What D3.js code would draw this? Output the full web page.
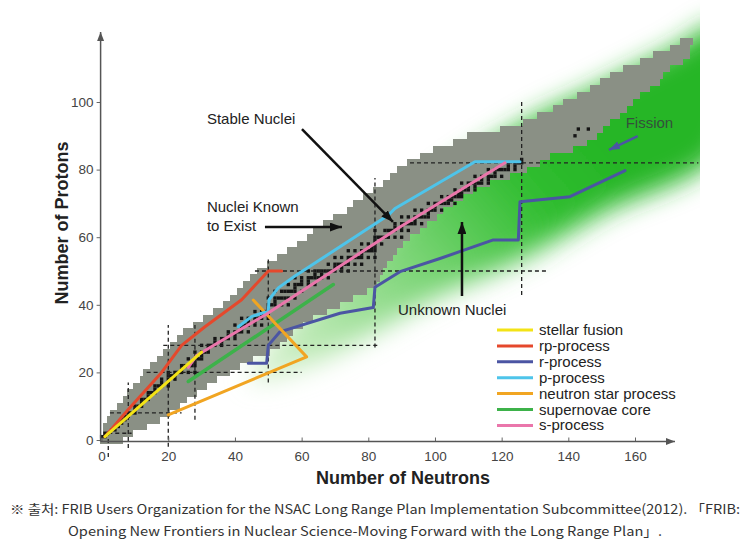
<!DOCTYPE html>
<html><head><meta charset="utf-8">
<script src="https://cdn.jsdelivr.net/npm/d3@7"></script>
<style>body{margin:0;background:#fff}</style>
</head><body>
<svg id="c" width="745" height="547"></svg>
<script>
// ---------------- DATA ----------------
const xTicks = [0, 20, 40, 60, 80, 100, 120, 140, 160];
const yTicks = [0, 20, 40, 60, 80, 100];

// nuclei known to exist: rows of 2 protons, neutron range
const knownZ = [0,2,4,6,8,10,12,14,16,18,20,22,24,26,28,30,32,34,36,38,40,42,44,46,48,50,52,54,56,58,60,62,64,66,68,70,72,74,76,78,80,82,84,86,88,90,92,94,96,98,100,102,104,106,108,110,112,114,116,118];
const knownNMin = [0,1,1,2,3,5,7,8,10,12,13,15,17,19,21,23,25,28,31,34,37,39,41,43,45,47,50,53,56,59,62,64,67,70,74,76,79,82,85,87,89,92,96,100,106,110,120,127,131,136,139,143,147,150,153,157,162,166,171,174];
const knownNMax = [6,9,13,17,20,23,25,28,31,34,38,41,45,50,53,55,57,60,63,67,71,75,79,82,83,84,85,87,88,90,92,95,97,100,102,105,108,111,116,122,127,131,134,141,145,148,150,152,155,157,159,161,164,167,168,170,174,176,176,177];

// stable nuclei: proton number and its stable neutron numbers
const stableZ = [1,2,3,4,5,6,7,8,9,10,11,12,13,14,15,16,17,18,19,20,21,22,23,24,25,26,27,28,29,30,31,32,33,34,35,36,37,38,39,40,41,42,44,45,46,47,48,49,50,51,52,53,54,55,56,57,58,59,60,62,63,64,65,66,67,68,69,70,71,72,73,74,75,76,77,78,79,80,81,82,83,90,92];
const stableN = [[0,1],[1,2],[3,4],[5],[5,6],[6,7],[7,8],[8,9,10],[10],[10,11,12],[12],[12,13,14],[14],[14,15,16],[16],[16,17,18,20],[18,20],[18,20,22],[20,21,22],[20,22,23,24,26,28],[24],[24,25,26,27,28],[27,28],[26,28,29,30],[30],[28,30,31,32],[32],[30,32,33,34,36],[34,36],[34,36,37,38,40],[38,40],[38,40,41,42,44],[42],[40,42,43,44,46,48],[44,46],[42,44,46,47,48,50],[48,50],[46,48,49,50],[50],[50,51,52,54,56],[52],[50,52,53,54,55,56,58],[52,54,55,56,57,58,60],[58],[56,58,59,60,62,64],[60,62],[58,60,62,63,64,65,66,68],[64,66],[62,64,65,66,67,68,69,70,72,74],[70,72],[68,70,71,72,73,74,76,78],[74],[70,72,74,75,76,77,78,80,82],[78],[74,76,78,79,80,81,82],[81,82],[78,80,82,84],[82],[82,83,84,85,86,88,90],[82,85,86,87,88,90,92],[88,90],[88,90,91,92,93,94,96],[94],[90,92,94,95,96,97,98],[98],[94,96,98,99,100,102],[100],[98,100,101,102,103,104,106],[104,105],[102,104,105,106,107,108],[107,108],[106,108,109,110,112],[110,112],[108,110,111,112,113,114,116],[114,116],[112,114,116,117,118,120],[118],[116,118,119,120,121,122,124],[122,124],[122,124,125,126],[126],[142],[143,146]];

// unknown-nuclei (green) region outline, neutron / proton numbers
const greenN = [45,62,80,100,125,150,186,186,172,160,146,131,114,100,84,68,54];
const greenZ = [18,22,31,42,53,67,86,123,116,110,103,96,86,76,60,45,32];

// magic-number guide lines
const magicVN = [2, 8, 20, 28, 50, 82, 126];
const magicVZ = [[-5,3],[-2.4,17],[-2,34],[6,34],[17,54],[27.4,77.5],[42.9,100.6]];
const magicHZ = [2, 8, 20, 28, 50, 82];
const magicHN = [[2,9],[2.5,24],[13.5,60],[18.5,83.5],[46,134],[92.5,179]];

// process paths [N, Z]
const legendNames = ["stellar fusion","rp-process","r-process","p-process","neutron star process","supernovae core","s-process"];
const legendColors = ["#f3e316","#e5482c","#4b55a3","#4ec4ea","#f1a522","#3db24a","#ea76ab"];
const stellarFusion = [[1,1],[30,26]];
const rpProcess = [[1,1],[8,9],[18,20],[24,28],[31,33.5],[42,41.5],[50,50],[54,50]];
const rProcess = [[44,22.7],[49.5,22.7],[50,28],[53.5,32],[71.5,37.5],[81.5,39.2],[82,45.2],[89.5,49.8],[101.5,53.7],[117.5,59.2],[125,59.2],[125.5,70.5],[140.5,72],[157,79.7]];
const pProcess = [[41,33.5],[45,36.5],[48,37.5],[50,38],[50.2,41.5],[53,45],[58,48.5],[86,66.5],[88,68.5],[112,82.3],[125.5,82.3]];
const neutronStar = [[20,7.4],[61.5,24.6],[45.5,41.4]];
const supernovaeCore = [[26,17.3],[69.5,46]];
const sProcess = [[26,21.5],[28.5,25],[49.5,37.3],[89.5,63],[121,82]];
const processPaths = [stellarFusion, rpProcess, rProcess, pProcess, neutronStar, supernovaeCore, sProcess];
const drawOrder = [5, 2, 4, 3, 6, 1, 0];

// annotations [text, N, Z]
const notes = [["Stable Nuclei",31.6,93.5],["Nuclei Known",31.6,67.5],["to Exist",31.6,61.8],["Unknown Nuclei",88.9,37]];
const arrows = [[[60.1,92],[87.4,64.5]],[[49,63],[72.1,63]],[[108.1,42.6],[108.1,64.5]]];
const fissionNote = ["Fission",157.2,92.3];
const fissionArrow = [[160.8,89.9],[152.2,85.8]];

const caption1 = "※ 출처: FRIB Users Organization for the NSAC Long Range Plan Implementation Subcommittee(2012). 「FRIB:";
const caption2 = "Opening New Frontiers in Nuclear Science-Moving Forward with the Long Range Plan」.";

// ---------------- DRAW ----------------
const svg = d3.select("#c");
const x = d3.scaleLinear().domain([0,160]).range([101.6,635]);
const y = d3.scaleLinear().domain([0,100]).range([440,102]);
const cw = x(1)-x(0), ch = y(0)-y(1);
const FONT = "'Liberation Sans', Arial, Helvetica, sans-serif";

const defs = svg.append("defs");
const blur = defs.append("filter").attr("id","blur").attr("x","-30%").attr("y","-30%").attr("width","160%").attr("height","160%");
blur.append("feGaussianBlur").attr("stdDeviation",13);
defs.append("clipPath").attr("id","gclip").append("rect")
  .attr("x",0).attr("y",0).attr("width",x(179.5)).attr("height",547);
const lg = defs.append("linearGradient").attr("id","ggrad").attr("gradientUnits","userSpaceOnUse")
  .attr("x1",x(55)).attr("y1",y(22)).attr("x2",x(140)).attr("y2",y(95));
lg.append("stop").attr("offset",0).attr("stop-color","#cdeec5");
lg.append("stop").attr("offset",0.45).attr("stop-color","#79d474");
lg.append("stop").attr("offset",0.8).attr("stop-color","#30bd30");
lg.append("stop").attr("offset",1).attr("stop-color","#27b627");

function arrowMarker(id, color, len, wid) {
  defs.append("marker").attr("id",id).attr("markerUnits","userSpaceOnUse")
    .attr("viewBox",`0 0 ${len} ${wid}`).attr("refX",len).attr("refY",wid/2)
    .attr("markerWidth",len).attr("markerHeight",wid).attr("orient","auto")
    .append("path").attr("d",`M0,0L${len},${wid/2}L0,${wid}Z`).attr("fill",color);
}
arrowMarker("ablack","#111",12,9);
arrowMarker("ablue","#4b55a3",11,8);
arrowMarker("aaxis","#555",9,7);

// green region
const gpts = greenN.map((n,i)=>[x(n),y(greenZ[i])]);
svg.append("g").attr("clip-path","url(#gclip)")
  .append("path").attr("d", d3.line().curve(d3.curveCatmullRomClosed)(gpts))
  .attr("fill","url(#ggrad)").attr("filter","url(#blur)");

// known nuclei
svg.append("g").attr("shape-rendering","crispEdges").selectAll("rect").data(knownZ).join("rect")
  .attr("x",(z,i)=>x(knownNMin[i]-0.5))
  .attr("y",z=>y(z+1))
  .attr("width",(z,i)=>x(knownNMax[i]+0.5)-x(knownNMin[i]-0.5))
  .attr("height",z=>y(z-1)-y(z+1)+0.5)
  .attr("fill","#8a9085");

// stable nuclei
const stable = [];
stableZ.forEach((z,i)=>stableN[i].forEach(n=>stable.push([n,z])));
svg.append("g").selectAll("rect").data(stable).join("rect")
  .attr("x",d=>x(d[0])-cw/2).attr("y",d=>y(d[1])-ch/2)
  .attr("width",cw).attr("height",ch).attr("fill","#151515");

// magic number dashed lines
const mg = svg.append("g").attr("stroke","#222").attr("stroke-width",1.3).attr("stroke-dasharray","4,3");
magicVN.forEach((n,i)=>mg.append("line").attr("x1",x(n)).attr("x2",x(n)).attr("y1",y(magicVZ[i][0])).attr("y2",y(magicVZ[i][1])));
magicHZ.forEach((z,i)=>mg.append("line").attr("y1",y(z)).attr("y2",y(z)).attr("x1",x(magicHN[i][0])).attr("x2",x(magicHN[i][1])));

// process lines
const line = d3.line().x(d=>x(d[0])).y(d=>y(d[1]));
drawOrder.forEach(k=>{
  svg.append("path").attr("d",line(processPaths[k])).attr("fill","none")
    .attr("stroke",legendColors[k]).attr("stroke-width",k===5?3.5:3)
    .attr("stroke-linejoin","round").attr("stroke-linecap","round");
});

// axes
const xAxis = svg.append("g").attr("transform",`translate(0,${y(0)+1.5})`)
  .call(d3.axisBottom(x).tickValues(xTicks).tickSize(-4).tickPadding(10).tickFormat(d3.format("d")));
xAxis.select(".domain").remove();
const yAxis = svg.append("g").attr("transform",`translate(${x(0)-1},0)`)
  .call(d3.axisLeft(y).tickValues(yTicks).tickSize(4).tickPadding(3).tickFormat(d3.format("d")));
yAxis.select(".domain").remove();
[xAxis,yAxis].forEach(a=>{
  a.selectAll("line").attr("stroke","#666").attr("stroke-width",1);
  a.selectAll("text").attr("font-family",FONT).attr("font-size",13.5).attr("fill","#444");
});
svg.append("line").attr("x1",x(0)-1).attr("y1",y(0)+1.5).attr("x2",675).attr("y2",y(0)+1.5)
  .attr("stroke","#555").attr("stroke-width",1.5).attr("marker-end","url(#aaxis)");
svg.append("line").attr("x1",x(0)-1).attr("y1",y(0)+1.5).attr("x2",x(0)-1).attr("y2",32)
  .attr("stroke","#555").attr("stroke-width",1.5).attr("marker-end","url(#aaxis)");

svg.append("text").attr("x",403).attr("y",484).attr("text-anchor","middle")
  .attr("font-family",FONT).attr("font-weight","bold").attr("font-size",18).attr("fill","#222")
  .text("Number of Neutrons");
svg.append("text").attr("transform","translate(68,223) rotate(-90)").attr("text-anchor","middle")
  .attr("font-family",FONT).attr("font-weight","bold").attr("font-size",18).attr("fill","#222")
  .text("Number of Protons");

// annotations
notes.forEach(t=>svg.append("text").attr("x",x(t[1])).attr("y",y(t[2]))
  .attr("font-family",FONT).attr("font-size",15).attr("fill","#222").text(t[0]));
arrows.forEach(a=>svg.append("line").attr("x1",x(a[0][0])).attr("y1",y(a[0][1]))
  .attr("x2",x(a[1][0])).attr("y2",y(a[1][1])).attr("stroke","#111").attr("stroke-width",2.5)
  .attr("marker-end","url(#ablack)"));
svg.append("text").attr("x",x(fissionNote[1])).attr("y",y(fissionNote[2]))
  .attr("font-family",FONT).attr("font-size",15).attr("fill","#34503c").text(fissionNote[0]);
svg.append("line").attr("x1",x(fissionArrow[0][0])).attr("y1",y(fissionArrow[0][1]))
  .attr("x2",x(fissionArrow[1][0])).attr("y2",y(fissionArrow[1][1]))
  .attr("stroke","#4b55a3").attr("stroke-width",2.5).attr("marker-end","url(#ablue)");

// legend
const leg = svg.append("g");
legendNames.forEach((nm,i)=>{
  const yy = 330 + i*15.9;
  leg.append("line").attr("x1",497).attr("x2",533).attr("y1",yy).attr("y2",yy)
    .attr("stroke",legendColors[i]).attr("stroke-width",3);
  leg.append("text").attr("x",539).attr("y",yy+5).attr("font-family",FONT)
    .attr("font-size",15).attr("fill","#222").text(nm);
});

// caption
const CJK = "'Noto Sans CJK KR', 'Noto Sans', sans-serif";
svg.append("text").attr("x",10).attr("y",514).attr("font-family",CJK).attr("font-size",13)
  .attr("fill","#333").attr("textLength",730).attr("lengthAdjust","spacingAndGlyphs").text(caption1);
svg.append("text").attr("x",68).attr("y",536).attr("font-family",CJK).attr("font-size",13)
  .attr("fill","#333").attr("textLength",594).attr("lengthAdjust","spacingAndGlyphs").text(caption2);
</script>
</body></html>
